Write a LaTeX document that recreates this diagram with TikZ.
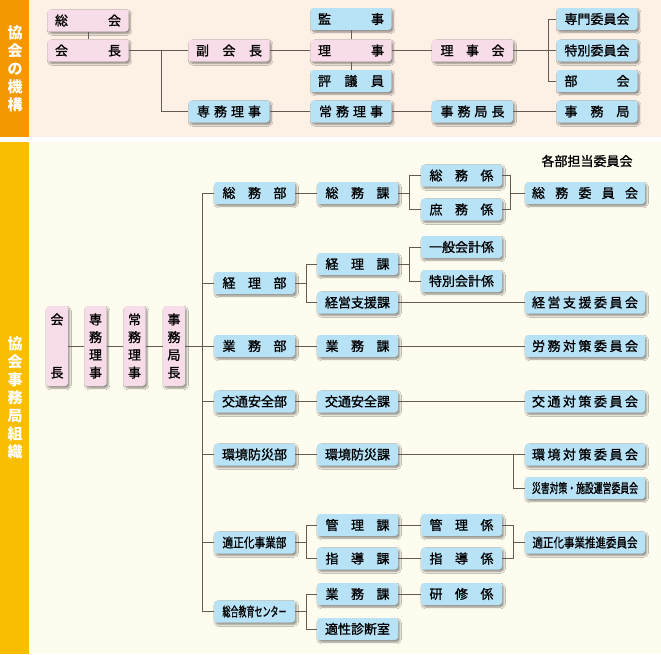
\documentclass[tikz,border=0pt]{standalone}
\usepackage{fontspec}
\usepackage{graphicx}
\newfontfamily\jp[FakeBold=1.2]{Noto Sans CJK JP}
\newfontfamily\jpb{Noto Sans CJK JP}
\usetikzlibrary{shadows,shadows.blur}
\definecolor{pinkc}{RGB}{249,220,233}
\definecolor{bluec}{RGB}{184,226,246}
\definecolor{topbg}{RGB}{253,241,230}
\definecolor{botbg}{RGB}{254,252,238}
\definecolor{orangec}{RGB}{243,152,0}
\definecolor{yellowc}{RGB}{250,190,0}
\definecolor{linec}{RGB}{100,90,85}
\newcommand\spr[2]{{\spaceskip=0pt plus 1fil\relax\makebox[#1][s]{#2}}}
\newcommand\fitw[2]{\resizebox{#1}{\height}{#2}}
\begin{document}
\begin{tikzpicture}[x=1pt,y=-1pt,
  font=\jp\fontsize{13}{15}\selectfont,
  box/.style={rectangle, rounded corners=3pt, inner sep=0pt, minimum width=81pt, minimum height=22pt,
    blur shadow={shadow xshift=1.6pt, shadow yshift=-2pt, shadow blur radius=1.8pt, shadow blur steps=6, shadow opacity=45}},
  pk/.style={box, fill=pinkc},
  bl/.style={box, fill=bluec},
  wide/.style={minimum width=120pt},
  vert/.style={minimum width=22pt, minimum height=80pt, align=center, font=\jp\fontsize{13}{17.7}\selectfont},
  bartext/.style={text=white, align=center, font=\jpb\bfseries\fontsize{15}{18}\selectfont},
  conn/.style={draw=linec, line width=0.9pt}]
\useasboundingbox (0,0) rectangle (661,654);
% backgrounds
\fill[topbg] (29,0) rectangle (661,136.5);
\fill[orangec] (0,0) rectangle (29,136.5);
\fill[botbg] (29,142) rectangle (661,654);
\fill[yellowc] (0,142) rectangle (29,654);
\node[bartext] (t1) at (15,69) {協\\会\\の\\機\\構};
\node[bartext] (t2) at (15,398) {協\\会\\事\\務\\局\\組\\織};

% ---------- top section ----------
\node[pk] (sokai) at (88,20.5) {\spr{66pt}{総 会}};
\node[pk] (kaicho) at (88,50.5) {\spr{66pt}{会 長}};
\node[pk] (fukukaicho) at (229,50.5) {\spr{66pt}{副 会 長}};
\node[bl] (senmu) at (229,111.5) {\spr{64pt}{専 務 理 事}};
\node[bl] (kanji) at (351,19) {\spr{66pt}{監 事}};
\node[pk] (riji) at (351,50.5) {\spr{66pt}{理 事}};
\node[bl] (hyogi) at (351,81) {\spr{66pt}{評 議 員}};
\node[bl] (jomu) at (351,111.5) {\spr{64pt}{常 務 理 事}};
\node[pk] (rijikai) at (472.5,50.5) {\spr{64pt}{理 事 会}};
\node[bl] (jimukyokucho) at (472.5,111.5) {\spr{64pt}{事 務 局 長}};
\node[bl] (senmon) at (597,19) {専門委員会};
\node[bl] (tokubetsu) at (597,50.5) {特別委員会};
\node[bl] (bukai) at (597,81) {\spr{65pt}{部 会}};
\node[bl] (jimukyoku) at (597,111.5) {\spr{65pt}{事 務 局}};

\coordinate (ba) at (161,0);
\coordinate (bb) at (548,0);
\draw[conn] (sokai) -- (kaicho);
\draw[conn] (kaicho) -- (fukukaicho);
\draw[conn] (kaicho.east -| ba) |- (senmu.west);
\draw[conn] (fukukaicho) -- (riji);
\draw[conn] (kanji) -- (riji);
\draw[conn] (riji) -- (hyogi);
\draw[conn] (riji) -- (rijikai);
\draw[conn] (rijikai) -- (tokubetsu);
\draw[conn] (senmon.west) -| (bukai.west -| bb) -- (bukai.west);
\draw[conn] (senmu) -- (jomu);
\draw[conn] (jomu) -- (jimukyokucho);
\draw[conn] (jimukyokucho) -- (jimukyoku);

% ---------- lower section ----------
\node[pk,vert] (v1) at (57,346) {会\\[35.4pt]長};
\node[pk,vert] (v2) at (95.5,346) {専\\務\\理\\事};
\node[pk,vert] (v3) at (134.5,346) {常\\務\\理\\事};
\node[pk,vert] (v4) at (174,346) {事\\務\\局\\長};

\node[bl] (somubu) at (254.5,193) {\spr{64pt}{総 務 部}};
\node[bl] (keiribu) at (254.5,283) {\spr{64pt}{経 理 部}};
\node[bl] (gyomubu) at (254.5,346) {\spr{64pt}{業 務 部}};
\node[bl] (kotsubu) at (254.5,401.5) {交通安全部};
\node[bl] (kankyobu) at (254.5,454.5) {環境防災部};
\node[bl] (tekiseibu) at (254.5,542.5) {\fitw{64pt}{適正化事業部}};
\node[bl] (sogo) at (254.5,611.5) {\fitw{64pt}{総合教育センター}};

\node[bl] (somuka) at (357.5,193) {\spr{64pt}{総 務 課}};
\node[bl] (keirika) at (357.5,264) {\spr{64pt}{経 理 課}};
\node[bl] (keieika) at (357.5,302.5) {経営支援課};
\node[bl] (gyomuka) at (357.5,346) {\spr{64pt}{業 務 課}};
\node[bl] (kotsuka) at (357.5,401.5) {交通安全課};
\node[bl] (kankyoka) at (357.5,454.5) {環境防災課};
\node[bl] (kanrika) at (357.5,525) {\spr{64pt}{管 理 課}};
\node[bl] (shidoka) at (357.5,558.5) {\spr{64pt}{指 導 課}};
\node[bl] (gyomuka2) at (357.5,594) {\spr{64pt}{業 務 課}};
\node[bl] (tekiseishitsu) at (357.5,629) {適性診断室};

\node[bl] (somugakari) at (461.5,175.5) {\spr{64pt}{総 務 係}};
\node[bl] (shomugakari) at (461.5,209.5) {\spr{64pt}{庶 務 係}};
\node[bl] (ippan) at (461.5,247) {一般会計係};
\node[bl] (tokukaikei) at (461.5,281) {特別会計係};
\node[bl] (kanrigakari) at (461.5,525) {\spr{64pt}{管 理 係}};
\node[bl] (shidogakari) at (461.5,558.5) {\spr{64pt}{指 導 係}};
\node[bl] (kenshu) at (461.5,594) {\spr{64pt}{研 修 係}};

\node (kakubu) at (587,161) {各部担当委員会};
\node[bl,wide] (somuiinkai) at (585,193) {\spr{106pt}{総 務 委 員 会}};
\node[bl,wide] (keieiiinkai) at (585,302.5) {\spr{106pt}{経 営 支 援 委 員 会}};
\node[bl,wide] (romu) at (585,346) {\spr{106pt}{労 務 対 策 委 員 会}};
\node[bl,wide] (kotsuiinkai) at (585,401.5) {\spr{106pt}{交 通 対 策 委 員 会}};
\node[bl,wide] (kankyoiinkai) at (585,454.5) {\spr{106pt}{環 境 対 策 委 員 会}};
\node[bl,wide] (saigai) at (585,488) {\fitw{106pt}{災害対策・施設運営委員会}};
\node[bl,wide] (tekiseiiinkai) at (585,542.5) {\fitw{105pt}{適正化事業推進委員会}};

\coordinate (tr) at (202,0);
\coordinate (be) at (306,0);
\coordinate (bc) at (409,0);
\coordinate (bd) at (510,0);
\coordinate (bf) at (513,0);

\draw[conn] (v1) -- (v2);
\draw[conn] (v2) -- (v3);
\draw[conn] (v3) -- (v4);
\draw[conn] (v4) -- (v4.east -| tr);
\draw[conn] (somubu.west) -| (sogo.west -| tr) -- (sogo.west);
\foreach \n in {keiribu,gyomubu,kotsubu,kankyobu,tekiseibu}
  \draw[conn] (\n.west) -- (\n.west -| tr);

\draw[conn] (somubu) -- (somuka);
\draw[conn] (somuka.east) -- (somuka.east -| bc);
\draw[conn] (somugakari.west) -| (shomugakari.west -| bc) -- (shomugakari.west);
\draw[conn] (somugakari.east) -| (shomugakari.east -| bd) -- (shomugakari.east);
\draw[conn] (somuiinkai.west -| bd) -- (somuiinkai.west);

\draw[conn] (keiribu.east) -- (keiribu.east -| be);
\draw[conn] (keirika.west) -| (keieika.west -| be) -- (keieika.west);
\draw[conn] (keirika.east) -- (keirika.east -| bc);
\draw[conn] (ippan.west) -| (tokukaikei.west -| bc) -- (tokukaikei.west);
\draw[conn] (keieika) -- (keieiiinkai);

\draw[conn] (gyomubu) -- (gyomuka);
\draw[conn] (gyomuka) -- (romu);
\draw[conn] (kotsubu) -- (kotsuka);
\draw[conn] (kotsuka) -- (kotsuiinkai);
\draw[conn] (kankyobu) -- (kankyoka);
\draw[conn] (kankyoka) -- (kankyoiinkai);
\draw[conn] (kankyoka.east -| bf) |- (saigai.west);

\draw[conn] (tekiseibu.east) -- (tekiseibu.east -| be);
\draw[conn] (kanrika.west) -| (shidoka.west -| be) -- (shidoka.west);
\draw[conn] (kanrika) -- (kanrigakari);
\draw[conn] (shidoka) -- (shidogakari);
\draw[conn] (kanrigakari.east) -| (shidogakari.east -| bf) -- (shidogakari.east);
\draw[conn] (tekiseiiinkai.west -| bf) -- (tekiseiiinkai.west);

\draw[conn] (sogo.east) -- (sogo.east -| be);
\draw[conn] (gyomuka2.west) -| (tekiseishitsu.west -| be) -- (tekiseishitsu.west);
\draw[conn] (gyomuka2) -- (kenshu);
\end{tikzpicture}
\end{document}
